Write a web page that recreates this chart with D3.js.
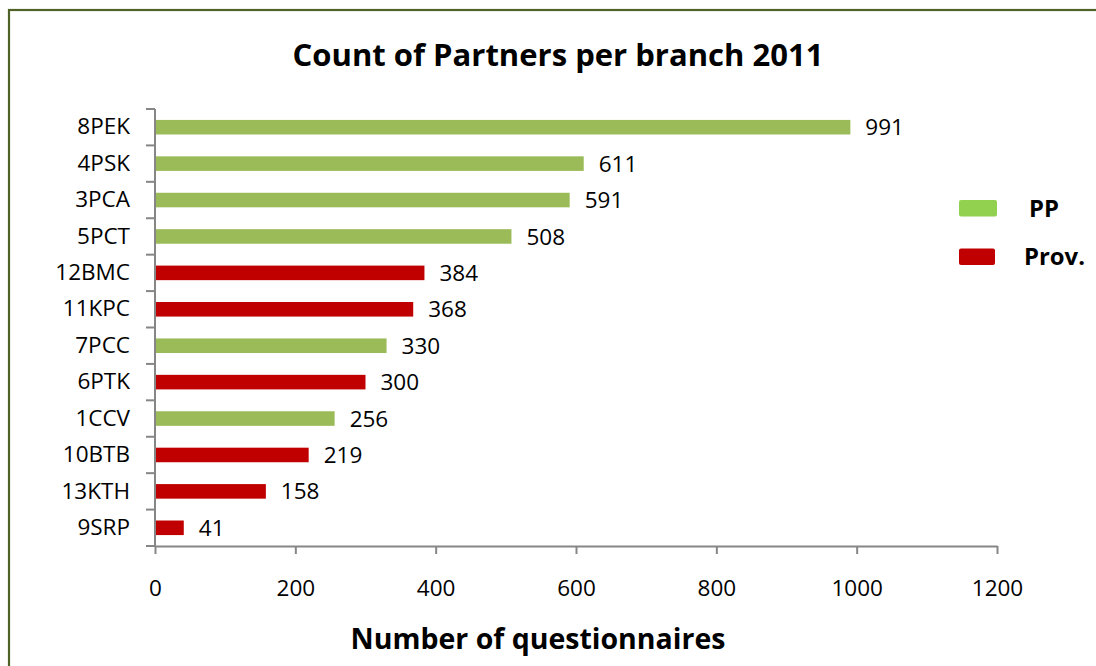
<!DOCTYPE html>
<html>
<head>
<meta charset="utf-8">
<script src="https://cdn.jsdelivr.net/npm/d3@7"></script>
<style>
  html, body { margin: 0; padding: 0; background: #fff; }
  svg { display: block; }
  text { font-family: "Open Sans", "Liberation Sans", sans-serif; fill: #000; }
</style>
</head>
<body>
<script>
// Branch names, top to bottom
const branches = ["8PEK", "4PSK", "3PCA", "5PCT", "12BMC", "11KPC", "7PCC", "6PTK", "1CCV", "10BTB", "13KTH", "9SRP"];
// Number of questionnaires per branch
const counts = [991, 611, 591, 508, 384, 368, 330, 300, 256, 219, 158, 41];
// Branch group for each branch
const groups = ["PP", "PP", "PP", "PP", "Prov.", "Prov.", "PP", "Prov.", "PP", "Prov.", "Prov.", "Prov."];
// Legend entries
const legendKeys = ["PP", "Prov."];
const xTicks = [0, 200, 400, 600, 800, 1000, 1200];

const W = 1096, H = 666;
const margin = { left: 155, right: 99, top: 109, bottom: 120 };
const FS = 22.5; // body text size

const barColor = d3.scaleOrdinal().domain(legendKeys).range(["#9BBB59", "#C00000"]);
const legendColor = d3.scaleOrdinal().domain(legendKeys).range(["#92D050", "#C00000"]);

const svg = d3.select("body").append("svg").attr("width", W).attr("height", H);

// Outer chart frame (only top and left edges fall inside the view)
svg.append("rect")
  .attr("x", 9).attr("y", 10)
  .attr("width", W + 20).attr("height", H + 20)
  .attr("fill", "none").attr("stroke", "#4F6228").attr("stroke-width", 2.2);

const x = d3.scaleLinear().domain([0, 1200]).range([margin.left, W - margin.right]);
const y = d3.scaleBand().domain(branches).range([margin.top, H - margin.bottom]).paddingInner(0.6).paddingOuter(0.3);

// fits a text element to a target width by adjusting its font size
function fit(sel, width) {
  const node = sel.node();
  const fs = parseFloat(sel.attr("font-size"));
  const w = node.getComputedTextLength();
  if (w > 0) sel.attr("font-size", fs * width / w);
}

// Title
const title = svg.append("text")
  .attr("x", 558).attr("y", 66)
  .attr("text-anchor", "middle")
  .attr("font-size", 26).attr("font-weight", "bold")
  .text("Count of Partners per branch 2011");
fit(title, 531);

// Bars
const full = d3.range(branches.length);
svg.append("g").selectAll("rect").data(full).join("rect")
  .attr("x", x(0))
  .attr("y", i => y(branches[i]))
  .attr("width", i => x(counts[i]) - x(0))
  .attr("height", y.bandwidth())
  .attr("fill", i => barColor(groups[i]));

// Value labels
svg.append("g").selectAll("text").data(full).join("text")
  .attr("x", i => x(counts[i]) + 15)
  .attr("y", i => y(branches[i]) + y.bandwidth() / 2)
  .attr("dy", "0.36em")
  .attr("font-size", FS)
  .text(i => counts[i]);

// Y axis
const yAxis = svg.append("g")
  .attr("transform", `translate(${x(0)},0)`)
  .call(d3.axisLeft(y).tickSize(0).tickPadding(25));
yAxis.select(".domain").attr("stroke", "#868686").attr("stroke-width", 2);
yAxis.selectAll("text").attr("font-size", FS).attr("fill", "#000")
  .style("font-family", '"Open Sans", sans-serif');
// category boundary ticks
const bounds = d3.range(branches.length + 1).map(k => margin.top + k * (H - margin.bottom - margin.top) / branches.length);
yAxis.selectAll("line.bound").data(bounds).join("line")
  .attr("class", "bound")
  .attr("x1", -9).attr("x2", 0)
  .attr("y1", d => d).attr("y2", d => d)
  .attr("stroke", "#868686").attr("stroke-width", 2);
yAxis.select(".domain").attr("d", `M0,${bounds[0]}V${bounds[bounds.length - 1]}`);

// X axis
const xAxis = svg.append("g")
  .attr("transform", `translate(0,${H - margin.bottom})`)
  .call(d3.axisBottom(x).tickValues(xTicks).tickFormat(d3.format("d"))
    .tickSize(8).tickSizeOuter(0).tickPadding(26));
xAxis.select(".domain").attr("stroke", "#868686").attr("stroke-width", 2);
xAxis.selectAll(".tick line").attr("stroke", "#868686").attr("stroke-width", 2);
xAxis.selectAll("text").attr("font-size", FS).attr("fill", "#000")
  .style("font-family", '"Open Sans", sans-serif');

// X axis title
const xt = svg.append("text")
  .attr("x", 538).attr("y", 649)
  .attr("text-anchor", "middle")
  .attr("font-size", 26).attr("font-weight", "bold")
  .text("Number of questionnaires");
fit(xt, 375);

// Legend
const legendTextX = [1029, 1024];
const legendTextW = [30, 61];
const lg = svg.append("g").selectAll("g").data(legendKeys).join("g")
  .attr("transform", (d, i) => `translate(959,${200 + i * 48.5})`);
lg.append("rect")
  .attr("width", (d, i) => i === 0 ? 38 : 36).attr("height", 16.5).attr("rx", 2)
  .attr("fill", d => legendColor(d));
lg.append("text")
  .attr("x", (d, i) => legendTextX[i] - 959)
  .attr("y", 8).attr("dy", "0.36em")
  .attr("font-size", 22).attr("font-weight", "bold")
  .text(d => d)
  .each(function(d, i) { fit(d3.select(this), legendTextW[i]); });
</script>
</body>
</html>
